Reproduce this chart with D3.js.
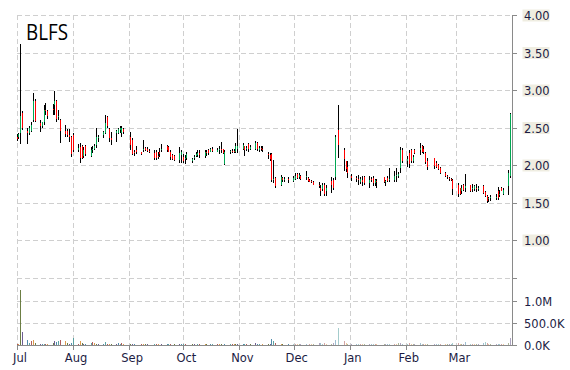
<!DOCTYPE html>
<html><head><meta charset="utf-8">
<script src="https://cdnjs.cloudflare.com/ajax/libs/d3/7.8.5/d3.min.js"></script>
<style>body{margin:0;background:#fff}svg{display:block}</style>
</head><body>
<svg id="c" width="570" height="370"></svg>
<script>
const symbol = "BLFS";
const startDate = "2014-07-01", endDate = "2015-03-31", domainEnd = "2015-04-01";
const holidays = ["2014-09-01","2014-11-27","2014-12-25","2015-01-01","2015-01-19","2015-02-16"];
// [open, high, low, close] per trading day
const ohlc = [
 // Jul
 [2.38,2.41,2.32,2.35],[2.37,2.43,2.35,2.41],[2.43,3.61,2.28,2.65],[2.69,2.72,2.47,2.49],
 [2.45,2.49,2.28,2.43],[2.43,2.52,2.40,2.50],[2.45,2.57,2.44,2.54],[2.60,2.96,2.57,2.85],[2.85,2.88,2.57,2.59],
 [2.56,2.60,2.44,2.52],[2.52,2.58,2.50,2.57],[2.57,2.80,2.53,2.73],[2.74,2.83,2.67,2.72],[2.72,2.74,2.62,2.65],
 [2.75,2.82,2.67,2.73],[2.80,2.99,2.67,2.85],[2.86,2.87,2.58,2.61],[2.65,2.73,2.60,2.66],[2.60,2.62,2.29,2.46],
 [2.45,2.53,2.37,2.42],[2.46,2.48,2.38,2.40],[2.40,2.48,2.31,2.37],[2.37,2.39,2.11,2.15],
 // Aug
 [2.40,2.43,2.17,2.20],
 [2.20,2.28,2.17,2.23],[2.24,2.29,2.03,2.10],[2.25,2.27,2.08,2.10],[2.12,2.24,2.09,2.20],[2.25,2.27,2.12,2.15],
 [2.12,2.24,2.11,2.20],[2.20,2.25,2.16,2.22],[2.21,2.28,2.20,2.26],[2.27,2.49,2.23,2.37],[2.36,2.40,2.31,2.38],
 [2.40,2.46,2.36,2.44],[2.43,2.67,2.42,2.56],[2.64,2.66,2.49,2.52],[2.48,2.50,2.31,2.36],[2.36,2.44,2.27,2.33],
 [2.43,2.47,2.31,2.45],[2.43,2.49,2.42,2.48],[2.47,2.52,2.43,2.50],[2.43,2.52,2.37,2.49],[2.48,2.49,2.41,2.44],
 // Sep
 [2.38,2.44,2.20,2.27],[2.34,2.36,2.13,2.15],[2.18,2.20,2.12,2.16],[2.20,2.25,2.15,2.17],
 [2.17,2.18,2.14,2.15],[2.20,2.33,2.17,2.22],[2.23,2.24,2.19,2.20],[2.21,2.24,2.17,2.19],[2.19,2.22,2.16,2.18],
 [2.16,2.20,2.07,2.09],[2.18,2.20,2.07,2.10],[2.12,2.18,2.08,2.11],[2.18,2.23,2.11,2.15],[2.20,2.28,2.17,2.22],
 [2.25,2.27,2.17,2.20],[2.24,2.26,2.17,2.18],[2.17,2.20,2.07,2.11],[2.13,2.15,2.07,2.08],[2.12,2.14,2.05,2.07],
 [2.07,2.24,2.03,2.16],[2.13,2.20,2.03,2.17],
 // Oct
 [2.11,2.15,2.03,2.05],[2.08,2.13,2.02,2.10],[2.10,2.17,2.07,2.15],
 [2.05,2.10,2.03,2.08],[2.10,2.13,2.07,2.11],[2.12,2.17,2.11,2.15],[2.14,2.20,2.11,2.16],[2.16,2.20,2.10,2.13],
 [2.12,2.20,2.09,2.18],[2.18,2.20,2.12,2.16],[2.20,2.21,2.14,2.16],[2.18,2.23,2.17,2.21],[2.22,2.24,2.18,2.19],
 [2.18,2.23,2.17,2.20],[2.20,2.25,2.15,2.22],[2.22,2.31,2.16,2.20],[2.21,2.22,2.15,2.16],[2.02,2.20,2.00,2.18],
 [2.17,2.20,2.15,2.19],[2.19,2.22,2.16,2.17],[2.19,2.21,2.16,2.17],[2.17,2.30,2.16,2.25],[2.22,2.48,2.16,2.26],
 // Nov
 [2.22,2.30,2.20,2.27],[2.25,2.26,2.12,2.20],[2.22,2.25,2.19,2.23],[2.28,2.30,2.18,2.21],[2.21,2.27,2.20,2.24],
 [2.22,2.32,2.20,2.29],[2.29,2.31,2.19,2.21],[2.20,2.25,2.18,2.23],[2.23,2.26,2.19,2.22],[2.22,2.25,2.17,2.20],
 [2.15,2.18,2.08,2.13],[2.13,2.16,2.05,2.08],[2.15,2.16,1.78,1.80],[1.80,2.07,1.76,1.82],[1.83,1.84,1.70,1.72],
 [1.73,1.87,1.72,1.84],[1.83,1.84,1.77,1.80],[1.80,1.84,1.77,1.82],[1.81,1.84,1.76,1.80],
 // Dec
 [1.79,1.86,1.77,1.83],[1.81,1.89,1.80,1.86],[1.88,1.90,1.82,1.83],[1.84,1.90,1.82,1.87],[1.86,1.87,1.80,1.82],
 [1.84,1.92,1.80,1.86],[1.83,1.84,1.78,1.79],[1.80,1.81,1.77,1.78],[1.79,1.80,1.76,1.78],[1.78,1.79,1.73,1.74],
 [1.74,1.78,1.70,1.72],[1.70,1.73,1.59,1.66],[1.68,1.76,1.66,1.74],[1.73,1.76,1.59,1.62],[1.66,1.74,1.59,1.70],
 [1.79,1.84,1.63,1.73],[1.80,1.83,1.67,1.70],[1.84,2.40,1.80,2.38],[2.47,2.80,2.09,2.27],
 [2.20,2.23,1.92,2.08],[2.05,2.06,1.91,1.95],[1.97,2.05,1.83,1.90],
 // Jan
 [1.85,1.88,1.79,1.83],
 [1.83,1.86,1.77,1.81],[1.82,1.87,1.73,1.80],[1.77,1.84,1.75,1.81],[1.80,1.85,1.72,1.78],[1.84,1.85,1.73,1.76],
 [1.76,1.85,1.70,1.80],[1.82,1.84,1.77,1.80],[1.83,1.85,1.72,1.76],[1.76,1.82,1.72,1.80],[1.79,1.82,1.70,1.78],
 [1.84,1.84,1.76,1.78],[1.78,1.80,1.72,1.79],[1.83,1.85,1.78,1.79],[1.80,1.96,1.77,1.82],
 [1.80,1.92,1.78,1.85],[1.86,1.96,1.78,1.87],[1.86,1.91,1.83,1.88],[1.96,2.24,1.90,2.20],[2.20,2.23,2.03,2.06],
 // Feb
 [2.06,2.12,1.98,2.08],[2.16,2.20,1.96,2.02],[2.20,2.21,2.03,2.05],[2.05,2.13,2.03,2.11],[2.20,2.21,2.15,2.16],
 [2.20,2.30,2.13,2.23],[2.26,2.27,2.16,2.18],[2.22,2.25,2.15,2.17],[2.16,2.17,2.02,2.04],[2.05,2.09,1.93,1.98],
 [2.09,2.10,1.95,1.99],[2.03,2.05,1.96,1.98],[2.00,2.02,1.94,1.95],[1.96,1.97,1.88,1.89],
 [1.89,1.91,1.84,1.86],[1.86,1.87,1.82,1.85],[1.83,1.84,1.79,1.81],[1.82,1.83,1.79,1.80],[1.80,1.81,1.60,1.68],
 // Mar
 [1.74,1.76,1.58,1.62],[1.69,1.70,1.60,1.62],[1.66,1.73,1.62,1.70],[1.73,1.75,1.66,1.67],[1.70,1.88,1.64,1.72],
 [1.73,1.74,1.64,1.66],[1.68,1.75,1.64,1.70],[1.68,1.73,1.65,1.72],[1.70,1.75,1.64,1.69],[1.68,1.72,1.66,1.70],
 [1.72,1.73,1.62,1.63],[1.64,1.65,1.58,1.59],[1.59,1.60,1.50,1.52],[1.55,1.58,1.51,1.56],[1.56,1.60,1.52,1.57],
 [1.56,1.61,1.53,1.58],[1.66,1.71,1.53,1.56],[1.60,1.67,1.57,1.62],[1.70,1.71,1.65,1.66],[1.61,1.69,1.60,1.67],
 [1.72,1.93,1.60,1.90],[1.86,2.69,1.83,2.68]
];
// volume in millions of shares
const volume = [
 0.02,0.03,1.25,0.30,0.11,0.05,0.08,0.11,0.05,0.02,0.02,0.03,0.02,0.02,0.04,0.08,0.06,0.08,0.11,0.08,0.05,0.03,0.04,
 0.17,0.03,0.10,0.04,0.02,0.03,0.05,0.06,0.04,0.03,0.02,0.03,0.06,0.03,0.02,0.02,0.03,0.05,0.03,0.04,0.02,
 0.03,0.02,0.02,0.01,0.02,0.03,0.02,0.02,0.01,0.02,0.02,0.02,0.01,0.02,0.03,0.02,0.02,0.01,0.02,0.02,0.02,
 0.02,0.02,0.01,0.02,0.02,0.01,0.02,0.02,0.02,0.02,0.01,0.02,0.02,0.02,0.02,0.02,0.01,0.02,0.02,0.02,0.02,0.03,0.03,
 0.02,0.02,0.02,0.01,0.02,0.04,0.02,0.02,0.01,0.02,0.02,0.03,0.14,0.09,0.05,0.02,0.02,0.01,0.02,
 0.02,0.03,0.02,0.02,0.02,0.02,0.01,0.02,0.02,0.03,0.05,0.04,0.03,0.05,0.02,0.03,0.04,0.11,0.39,0.09,0.04,0.03,
 0.02,0.02,0.03,0.02,0.02,0.02,0.03,0.02,0.02,0.02,0.02,0.02,0.03,0.02,0.02,0.03,0.02,0.04,0.05,0.03,
 0.03,0.04,0.02,0.02,0.03,0.04,0.03,0.02,0.03,0.02,0.02,0.03,0.02,0.02,0.02,0.03,0.02,0.02,0.04,
 0.04,0.03,0.02,0.03,0.06,0.03,0.02,0.03,0.02,0.02,0.04,0.06,0.04,0.02,0.02,0.03,0.02,0.03,0.02,0.02,0.05,0.15
];
const priceTicks = [4, 3.5, 3, 2.5, 2, 1.5, 1, 0.5];
const priceTickLabels = ["4.00","3.50","3.00","2.50","2.00","1.50","1.00",""];
const volumeTicks = [1, 0.5, 0];
const volumeTickLabels = ["1.0M","500.0K","0.0K"];
const monthTicks = ["2014-07-01","2014-08-01","2014-09-01","2014-10-01","2014-11-01","2014-12-01","2015-01-01","2015-02-01","2015-03-01"];
const monthLabels = ["Jul","Aug","Sep","Oct","Nov","Dec","Jan","Feb","Mar"];

const volumePalette = ["#a84a4a","#d9903a","#5c7030","#5e4c86","#3f7fa3","#4a9a9a"];

(function () {
const parse = d3.utcParse("%Y-%m-%d"), fmt = d3.utcFormat("%Y-%m-%d");
const dates = d3.utcDay.range(parse(startDate), d3.utcDay.offset(parse(endDate), 1))
  .filter(d => d.getUTCDay() % 6 !== 0 && !holidays.includes(fmt(d)));
const data = dates.map((d, i) => ({date: d, o: ohlc[i][0], h: ohlc[i][1], l: ohlc[i][2], c: ohlc[i][3], v: volume[i]}));

const svg = d3.select("#c");
const pLeft = 17, pRight = 512.5, pTop = 15, pBottom = 345;
const x = d3.scaleUtc().domain([parse(startDate), parse(domainEnd)]).range([pLeft, pRight]);
const y = d3.scaleLinear().domain([0.5, 4]).range([277.5, pTop]);
const yv = d3.scaleLinear().domain([0, 1]).range([pBottom, 301]);
const grid = "#cfcfcf", axisCol = "#8a8a8a", textCol = "#1c1c44";
const font = "DejaVu Sans, Verdana, sans-serif";

// horizontal grid
const hTicks = priceTicks.map(t => Math.round(y(t)) + 0.5).concat(volumeTicks.filter(t => t > 0).map(t => Math.round(yv(t)) + 0.5));
svg.append("g").selectAll("line").data(hTicks).join("line")
  .attr("x1", pLeft).attr("x2", pRight).attr("y1", d => d).attr("y2", d => d)
  .attr("stroke", grid).attr("stroke-dasharray", "5,3");
// vertical grid
const mt = monthTicks.map(parse);
svg.append("g").selectAll("line").data(mt).join("line")
  .attr("x1", d => Math.round(x(d)) + 0.5).attr("x2", d => Math.round(x(d)) + 0.5)
  .attr("y1", pTop).attr("y2", pBottom)
  .attr("stroke", grid).attr("stroke-dasharray", "5,3");

// volume bars
svg.append("g").attr("shape-rendering", "crispEdges").selectAll("rect").data(data).join("rect")
  .attr("x", d => Math.floor(x(d.date))).attr("width", 1)
  .attr("y", d => yv(d.v)).attr("height", d => pBottom - yv(d.v))
  .attr("fill", (d, i) => volumePalette[i % volumePalette.length])
  .attr("opacity", d => d.date < parse("2014-12-01") ? 0.9 : 0.5);

// candles
const cg = svg.append("g").attr("shape-rendering", "crispEdges");
cg.selectAll("rect.w").data(data).join("rect").attr("class", "w")
  .attr("x", d => Math.floor(x(d.date))).attr("width", 1)
  .attr("y", d => y(d.h)).attr("height", d => Math.max(1, y(d.l) - y(d.h)))
  .attr("fill", "#000");
cg.selectAll("rect.b").data(data.filter(d => Math.abs(d.c - d.o) > 0.005)).join("rect").attr("class", "b")
  .attr("x", d => Math.floor(x(d.date))).attr("width", 1)
  .attr("y", d => y(Math.max(d.o, d.c))).attr("height", d => Math.max(1, Math.abs(y(d.o) - y(d.c))))
  .attr("fill", d => d.c > d.o ? "#00a651" : "#ff0000");

// axes
const ax = svg.append("g").attr("shape-rendering", "crispEdges");
ax.append("line").attr("x1", 512.5).attr("x2", 512.5).attr("y1", pTop).attr("y2", pBottom + 0.5).attr("stroke", axisCol);
ax.append("line").attr("x1", pLeft).attr("x2", 512.5).attr("y1", pBottom + 0.5).attr("y2", pBottom + 0.5).attr("stroke", axisCol);
const rTicks = priceTicks.map((t, i) => ({y: y(t), label: priceTickLabels[i], bg: true}))
  .concat(volumeTicks.map((t, i) => ({y: yv(t), label: volumeTickLabels[i], bg: false})));
ax.selectAll("line.rt").data(rTicks).join("line").attr("class", "rt")
  .attr("x1", 512.5).attr("x2", 517).attr("y1", d => Math.round(d.y) + 0.5).attr("y2", d => Math.round(d.y) + 0.5)
  .attr("stroke", axisCol);
ax.selectAll("line.bt").data(mt).join("line").attr("class", "bt")
  .attr("x1", d => Math.round(x(d)) + 0.5).attr("x2", d => Math.round(x(d)) + 0.5)
  .attr("y1", pBottom).attr("y2", pBottom + 5).attr("stroke", axisCol);

const lab = svg.append("g");
const lt = rTicks.filter(d => d.label);
lab.selectAll("rect").data(lt.filter(d => d.bg)).join("rect")
  .attr("x", 522.5).attr("y", d => d.y - 5.5).attr("width", 27).attr("height", 12).attr("fill", "#efede1");
lab.selectAll("text").data(lt).join("text")
  .attr("x", 524).attr("y", d => d.y + 5)
  .attr("font-family", font).attr("font-size", "11.5px").attr("fill", textCol)
  .text(d => d.label);

svg.append("g").selectAll("text").data(mt).join("text")
  .attr("x", d => x(d) + 3).attr("y", 361.5).attr("text-anchor", "middle")
  .attr("font-family", font).attr("font-size", "11.5px").attr("fill", textCol)
  .text((d, i) => monthLabels[i]);

svg.append("text").attr("x", 26).attr("y", 39.5)
  .attr("font-family", "Open Sans, DejaVu Sans, sans-serif").attr("font-size", "22px").attr("fill", "#000")
  .attr("textLength", 42).attr("lengthAdjust", "spacingAndGlyphs")
  .text(symbol);
})();
</script>
</body></html>
